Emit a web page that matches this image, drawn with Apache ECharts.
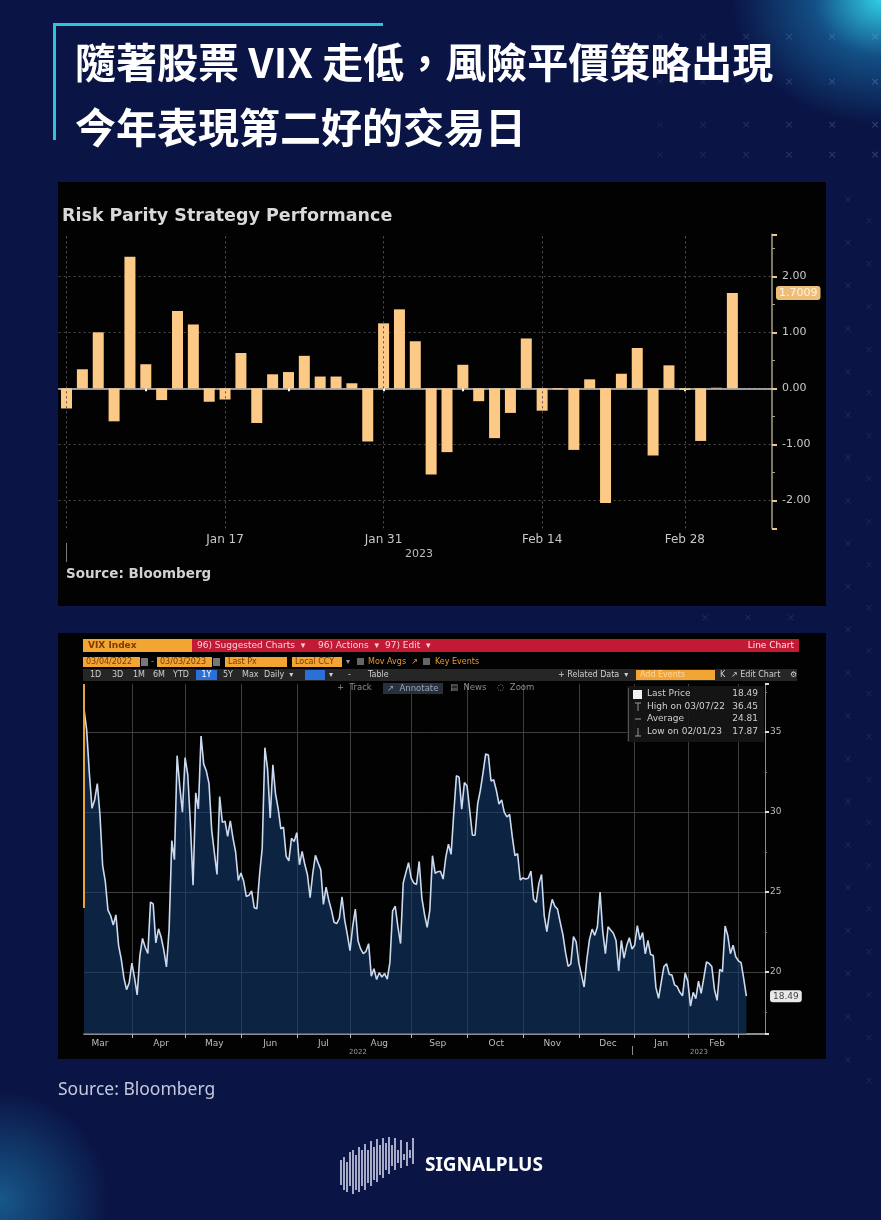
<!DOCTYPE html>
<html><head><meta charset="utf-8">
<script src="https://cdn.jsdelivr.net/npm/echarts@6/dist/echarts.min.js"></script>
<style>
html,body{margin:0;padding:0;}
body{width:881px;height:1220px;overflow:hidden;background:#0a1445;position:relative;}
#bg{position:absolute;left:0;top:0;width:881px;height:1220px;
background:
 radial-gradient(ellipse 150px 125px at 881px 0px, rgba(50,215,235,0.95) 0%, rgba(30,150,210,0.45) 45%, rgba(10,20,70,0) 100%),
 radial-gradient(ellipse 110px 110px at 0px 1200px, rgba(40,170,220,0.45) 0%, rgba(10,20,70,0) 100%),
 #0a1445;}
#chart{position:absolute;left:0;top:0;width:881px;height:1220px;}
</style></head>
<body><div id="bg"></div><div id="chart"></div>
<script>
// ---------- Risk parity daily performance ----------
const rpDates = ['2022-12-30','2023-01-03','2023-01-04','2023-01-05','2023-01-06','2023-01-09','2023-01-10','2023-01-11','2023-01-12','2023-01-13','2023-01-17','2023-01-18','2023-01-19','2023-01-20','2023-01-23','2023-01-24','2023-01-25','2023-01-26','2023-01-27','2023-01-30','2023-01-31','2023-02-01','2023-02-02','2023-02-03','2023-02-06','2023-02-07','2023-02-08','2023-02-09','2023-02-10','2023-02-13','2023-02-14','2023-02-15','2023-02-16','2023-02-17','2023-02-21','2023-02-22','2023-02-23','2023-02-24','2023-02-27','2023-02-28','2023-03-01','2023-03-02','2023-03-03'];
const rpReturns = [-0.36,0.34,1.00,-0.59,2.35,0.43,-0.21,1.38,1.14,-0.24,-0.20,0.63,-0.62,0.25,0.29,0.58,0.21,0.21,0.09,-0.95,1.16,1.41,0.84,-1.54,-1.14,0.42,-0.23,-0.89,-0.44,0.89,-0.40,-0.02,-1.10,0.16,-2.05,0.26,0.72,-1.20,0.41,-0.03,-0.94,0.01,1.7009];
const rpLabelDates = ['2023-01-17','2023-01-31','2023-02-14','2023-02-28'];
const rpLabelText = ['Jan 17','Jan 31','Feb 14','Feb 28'];
const rpGridDates = ['2022-12-30','2023-01-17','2023-01-31','2023-02-14','2023-02-28'];
const rpTickDates = ['2022-12-30','2023-01-09','2023-01-17','2023-01-23','2023-01-31','2023-02-07','2023-02-14','2023-02-21','2023-02-28'];
const rpLast = 1.7009;

// ---------- VIX Index daily close ----------
const vixMonthDays = [
 ['2022-03','7 8 9 10 11 14 15 16 17 18 21 22 23 24 25 28 29 30 31'],
 ['2022-04','1 4 5 6 7 8 11 12 13 14 18 19 20 21 22 25 26 27 28 29'],
 ['2022-05','2 3 4 5 6 9 10 11 12 13 16 17 18 19 20 23 24 25 26 27 31'],
 ['2022-06','1 2 3 6 7 8 9 10 13 14 15 16 17 21 22 23 24 27 28 29 30'],
 ['2022-07','1 5 6 7 8 11 12 13 14 15 18 19 20 21 22 25 26 27 28 29'],
 ['2022-08','1 2 3 4 5 8 9 10 11 12 15 16 17 18 19 22 23 24 25 26 29 30 31'],
 ['2022-09','1 2 6 7 8 9 12 13 14 15 16 19 20 21 22 23 26 27 28 29 30'],
 ['2022-10','3 4 5 6 7 10 11 12 13 14 17 18 19 20 21 24 25 26 27 28 31'],
 ['2022-11','1 2 3 4 7 8 9 10 11 14 15 16 17 18 21 22 23 25 28 29 30'],
 ['2022-12','1 2 5 6 7 8 9 12 13 14 15 16 19 20 21 22 23 27 28 29 30'],
 ['2023-01','3 4 5 6 9 10 11 12 13 17 18 19 20 23 24 25 26 27 30 31'],
 ['2023-02','1 2 3 6 7 8 9 10 13 14 15 16 17 21 22 23 24 27 28'],
 ['2023-03','1 2 3']
];
const vixClose = [
 36.45,35.13,32.45,30.23,30.75,31.77,29.83,26.67,25.67,23.87,23.53,22.94,23.57,21.67,20.81,19.63,18.90,19.33,20.56,
 19.63,18.57,21.03,22.10,21.55,21.16,24.37,24.26,21.82,22.70,22.17,21.37,20.32,22.68,28.21,27.02,33.52,31.60,29.99,33.40,
 32.34,29.25,25.42,31.20,30.19,34.75,32.99,32.56,31.77,28.87,27.47,26.10,30.96,29.35,29.43,28.48,29.45,28.37,27.50,25.72,26.19,
 25.69,24.72,24.79,25.07,24.02,23.96,26.09,27.75,34.02,32.69,29.62,32.95,31.13,30.19,28.95,29.05,27.23,26.95,28.36,28.16,28.71,
 26.70,27.54,26.73,26.08,24.64,26.17,27.29,26.82,26.40,24.23,25.30,24.50,23.88,23.11,23.03,23.36,24.69,23.24,22.33,21.33,
 22.84,23.93,21.95,21.44,21.15,21.29,21.77,19.74,20.20,19.53,19.95,19.69,19.90,19.56,20.60,23.80,24.11,22.82,21.78,25.56,26.21,26.83,25.87,
 25.56,25.47,26.91,24.64,23.61,22.79,23.87,27.27,26.16,26.27,26.30,25.81,27.16,27.99,27.35,29.92,32.26,32.18,30.18,31.84,31.62,
 30.10,28.55,28.55,30.52,31.36,32.45,33.63,33.57,31.94,32.02,31.37,30.50,30.76,29.98,29.69,29.85,28.46,27.28,27.39,25.75,25.88,
 25.81,25.86,26.30,24.55,24.35,25.54,26.09,23.53,22.52,23.73,24.54,24.11,23.93,23.12,22.36,21.24,20.35,20.50,22.21,21.89,20.58,
 19.84,19.06,20.75,22.01,22.68,22.29,22.83,25.00,22.55,21.14,22.83,22.62,22.42,21.97,20.07,21.97,20.87,21.65,22.14,21.44,21.67,
 22.90,22.01,22.46,21.13,21.97,21.09,21.03,19.02,18.35,19.36,20.34,20.52,19.85,19.81,19.20,19.08,18.73,18.51,19.94,19.40,
 17.87,18.73,18.33,19.43,18.66,19.63,20.63,20.53,20.34,18.91,18.23,20.17,20.02,22.87,22.29,21.14,21.67,20.95,20.70,
 20.58,19.59,18.49
];
const monthNames = ['Jan','Feb','Mar','Apr','May','Jun','Jul','Aug','Sep','Oct','Nov','Dec'];
const vixLegendNames = ['Last Price','High on 03/07/22','Average','Low on 02/01/23'];
const vixLegendValues = ['18.49','36.45','24.81','17.87'];
const vixLast = 18.49;

// ---------- derived helpers ----------
const vixDates = [];
vixMonthDays.forEach(([ym, days]) => days.split(' ').forEach(d => vixDates.push(ym + '-' + d.padStart(2,'0'))));
const vixMonthEnd = new Set();
const vixLabelIdx = new Set();
vixDates.forEach((d, i) => {
  const nx = vixDates[i+1];
  if (nx && nx.slice(0,7) !== d.slice(0,7)) vixMonthEnd.add(i);
  const prev = vixDates[i-1];
  const day = +d.slice(8);
  if (day >= 15 && (!prev || prev.slice(0,7) !== d.slice(0,7) || +prev.slice(8) < 15)) vixLabelIdx.add(i);
});
const rpLabelIdx = rpLabelDates.map(d => rpDates.indexOf(d));
const rpTickIdx = rpTickDates.map(d => rpDates.indexOf(d));

// ---------- decoration / panels ----------
const G = [];
const BB = 'DejaVu Sans';
function rect(x,y,w,h,fill,z,extra){G.push(Object.assign({type:'rect',z:z==null?50:z,shape:{x,y,width:w,height:h},style:{fill}},extra||{}));}
function txt(x,y,t,font,fill,align,z){G.push({type:'text',z:z==null?60:z,x,y,style:{text:t,font,fill,textAlign:align||'left',textVerticalAlign:'middle',align:align||'left',verticalAlign:'middle'}});}
function ln(x1,y1,x2,y2,stroke,w,z){G.push({type:'line',z:z==null?55:z,shape:{x1,y1,x2,y2},style:{stroke,lineWidth:w}});}

// background crosses
[37,82,125,155].forEach((y,r)=>{ for (let x=660; x<=875; x+=43) txt(x,y,'×','11px DejaVu Sans','rgba(150,170,225,'+(0.10+0.22*(x-660)/215).toFixed(2)+')','center',1); });
for (let y=200; y<=1060; y+=43) { txt(848,y,'×','10px DejaVu Sans','rgba(140,160,215,0.16)','center',1); txt(869,y+21,'×','10px DejaVu Sans','rgba(140,160,215,0.13)','center',1); }
for (let x=705; x<=830; x+=43) txt(x,618,'×','10px DejaVu Sans','rgba(140,160,215,0.16)','center',1);

// title frame
ln(53,24.5,383,24.5,'#2fc3d6',3,5);
ln(54.5,23,54.5,140,'#2fc3d6',3,5);
txt(75,62,'隨著股票 VIX 走低，風險平價策略出現','bold 41px "Noto Sans CJK TC"','#ffffff','left',60);
txt(75,127,'今年表現第二好的交易日','bold 41px "Noto Sans CJK TC"','#ffffff','left',60);

// panels
rect(58,182,768,424,'#020202',-10);
rect(58,633,768,426,'#020202',-10);

// top panel texts
txt(62,216,'Risk Parity Strategy Performance','bold 17.5px '+BB,'#d9d9d9','left');
txt(66,574,'Source: Bloomberg','bold 13.5px '+BB,'#d2d2d2','left');
txt(419,554,'2023','11px '+BB,'#bdbdbd','center');
ln(66.5,543,66.5,562,'#7a7a7a',1);

// VIX header rows
rect(83,639,109,13,'#f3a533');
txt(88,645.5,'VIX Index','bold 9px '+BB,'#7a3a00','left');
rect(192,639,607,13,'#c21a35');
txt(197,645.5,'96) Suggested Charts  ▾','9px '+BB,'#f3d3d8','left');
txt(318,645.5,'96) Actions  ▾','9px '+BB,'#f3d3d8','left');
txt(385,645.5,'97) Edit  ▾','9px '+BB,'#f3d3d8','left');
txt(794,645.5,'Line Chart','9px '+BB,'#fae4e8','right');
rect(83,657,57,10,'#f3a533'); txt(86,662,'03/04/2022','8px '+BB,'#7a3a00','left');
rect(141,658,7,8,'#777'); txt(151,662,'-','8px '+BB,'#aaa','left');
rect(157,657,55,10,'#f3a533'); txt(160,662,'03/03/2023','8px '+BB,'#7a3a00','left');
rect(213,658,7,8,'#777');
rect(225,657,62,10,'#f3a533'); txt(228,662,'Last Px','8px '+BB,'#7a3a00','left');
rect(292,657,50,10,'#f3a533'); txt(295,662,'Local CCY','8px '+BB,'#7a3a00','left');
txt(346,662,'▾','8px '+BB,'#999','left');
rect(357,658,7,7,'#666'); txt(368,662,'Mov Avgs  ↗','8px '+BB,'#e89a2c','left');
rect(423,658,7,7,'#666'); txt(435,662,'Key Events','8px '+BB,'#e89a2c','left');
rect(83,669,714,12,'#262626');
[['1D',90],['3D',112],['1M',133],['6M',153],['YTD',173],['5Y',223],['Max',242],['Daily  ▾',264],['▾',329],['-',348],['Table',368]].forEach(([t,x])=>txt(x,675,t,'8px '+BB,'#cfcfcf','left'));
rect(196,670,21,10,'#2b6fd8'); txt(206.5,675,'1Y','8px '+BB,'#ffffff','center');
rect(305,670,20,10,'#2b6fd8');
txt(558,675,'+ Related Data  ▾','8px '+BB,'#cfcfcf','left');
rect(636,670,79,10,'#f3a533'); txt(640,675,'Add Events','8px '+BB,'#f8d9a8','left');
txt(720,675,'K','8px '+BB,'#cfcfcf','left');
txt(731,675,'↗ Edit Chart','8px '+BB,'#cfcfcf','left');
txt(790,675,'⚙','8px '+BB,'#cfcfcf','left');
txt(337,688,'+  Track','8.5px '+BB,'#8d8d8d','left');
rect(383,683,60,11,'#27303c'); txt(387,688.5,'↗  Annotate','8.5px '+BB,'#9aa4b0','left');
txt(450,688,'▤  News','8.5px '+BB,'#8d8d8d','left');
txt(497,688,'◌  Zoom','8.5px '+BB,'#8d8d8d','left');

// VIX legend box
rect(627,686,137,56,'rgba(22,22,22,0.92)',70);
ln(628.5,688,628.5,741,'#555',1,71);
const legY = [694,707,719,732];
rect(633,690,9,9,'#f2f2f2',72);
ln(638,703,638,711,'#999',1,72); ln(635,703,641,703,'#999',1,72);
ln(635,719,641,719,'#999',1,72);
ln(638,728,638,736,'#999',1,72); ln(635,736,641,736,'#999',1,72);
vixLegendNames.forEach((n,i)=>{ txt(647,legY[i],n,'9px '+BB,'#d0d0d0','left',73); txt(758,legY[i],vixLegendValues[i],'9px '+BB,'#d0d0d0','right',73); });

// VIX year labels
txt(358,1052,'2022','7px '+BB,'#9a9a9a','center');
txt(699,1052,'2023','7px '+BB,'#9a9a9a','center');
ln(632.5,1046,632.5,1055,'#8a8a8a',1);

// page source + logo
txt(58,1090,'Source: Bloomberg','17.5px "Noto Sans"','#c5c9dc','left');
const logoBars = [[341,1160,1185],[344,1157,1190],[347,1162,1192],[350,1152,1186],[353,1150,1194],[356,1155,1190],[359,1147,1192],[362,1150,1186],[365,1144,1190],[368,1150,1183],[371,1141,1186],[374,1147,1180],[377,1139,1182],[380,1145,1175],[383,1138,1178],[386,1143,1170],[389,1137,1174],[392,1145,1166],[395,1138,1170],[398,1150,1163],[401,1140,1168],[404,1154,1160],[407,1142,1166],[410,1150,1158],[413,1138,1164]];
logoBars.forEach(([x,a,b])=>ln(x,a,x,b,'#e8ecff',1.4));
txt(425,1166,'SIGNALPLUS','bold 19px "Noto Sans"','#ffffff','left');

// ---------- chart ----------
const chart = echarts.init(document.getElementById('chart'), null, {width:881, height:1220});
chart.setOption({
  animation:false,
  backgroundColor:'transparent',
  grid:[
    {left:58.6, top:234.3, width:713.4, height:294},
    {left:84, top:684, width:681, height:350}
  ],
  xAxis:[
    {gridIndex:0, type:'category', data:rpDates, max:44, boundaryGap:true,
     axisLine:{lineStyle:{color:'#c9c9c9', width:1.5}},
     axisTick:{show:true, alignWithLabel:true, interval:(i)=>rpTickIdx.includes(i), length:3, lineStyle:{color:'#ffffff', width:2}},
     axisLabel:{interval:(i)=>rpLabelIdx.includes(i), formatter:(v)=>rpLabelText[rpLabelDates.indexOf(v)]||'', color:'#c8c8c8', fontSize:12, fontFamily:BB, margin:6},
     splitLine:{show:false}},
    {gridIndex:1, type:'category', data:vixDates, max:256, boundaryGap:false,
     axisLine:{lineStyle:{color:'#bdbdbd', width:1.5}},
     axisTick:{show:true, interval:(i)=>vixMonthEnd.has(i), length:4, lineStyle:{color:'#bdbdbd'}},
     axisLabel:{interval:(i)=>vixLabelIdx.has(i), formatter:(v)=>monthNames[+v.slice(5,7)-1], color:'#bdbdbd', fontSize:9, fontFamily:BB, margin:5},
     splitLine:{show:true, interval:(i)=>vixMonthEnd.has(i), lineStyle:{color:'#3e3e3e', width:1}}}
  ],
  yAxis:[
    {gridIndex:0, type:'value', position:'right', min:-2.5, max:2.75, minInterval:1, maxInterval:1,
     axisLine:{show:true, lineStyle:{color:'#aaa08c', width:1.5}},
     axisTick:{show:true, length:5, lineStyle:{color:'#e6c796', width:2}},
     minorTick:{show:true, splitNumber:2, length:3, lineStyle:{color:'#aaa08c'}},
     axisLabel:{formatter:(v)=>Number.isInteger(v)?v.toFixed(2):'', color:'#c8c8c8', fontSize:11, fontFamily:BB, margin:10},
     splitLine:{show:true, showMinLine:false, showMaxLine:false, lineStyle:{color:'#4e4e4e', type:[2,3], width:1}}},
    {gridIndex:1, type:'value', position:'right', min:16.125, max:38, minInterval:5, maxInterval:5,
     axisLine:{show:true, lineStyle:{color:'#8c8c8c', width:1}},
     axisTick:{show:true, length:4, lineStyle:{color:'#dddddd', width:2}},
     minorTick:{show:true, splitNumber:2, length:2, lineStyle:{color:'#888'}},
     axisLabel:{formatter:(v)=>(v%5===0?String(v):''), color:'#bdbdbd', fontSize:9, fontFamily:BB, margin:5},
     splitLine:{show:true, showMinLine:false, showMaxLine:false, lineStyle:{color:'#3e3e3e', width:1}}}
  ],
  series:[
    {type:'bar', xAxisIndex:0, yAxisIndex:0, data:rpReturns, barWidth:11,
     itemStyle:{color:'#fcc986'},
     markLine:{silent:true, symbol:'none', animation:false,
       data:[
         ...rpGridDates.map(d=>({xAxis:rpDates.indexOf(d), lineStyle:{color:'#555', type:[2,3], width:1}, label:{show:false}})),
         {yAxis:rpLast, lineStyle:{color:'rgba(0,0,0,0)', width:0.01, type:'solid'}, label:{show:true, position:'end', distance:4, formatter:rpLast.toFixed(4), color:'#fff3dc', backgroundColor:'#eebd78', padding:[2,3,1,3], borderRadius:3, fontSize:11, fontFamily:BB}}
       ]}},
    {type:'line', xAxisIndex:1, yAxisIndex:1, data:vixClose, symbol:'none', showSymbol:false,
     lineStyle:{color:'#cbdaef', width:1.6},
     areaStyle:{color:'rgba(20,60,112,0.84)'},
     markLine:{silent:true, symbol:'none', animation:false,
       data:[
         [{coord:[0,24], lineStyle:{color:'#e8a33c', width:2, type:'solid'}, label:{show:false}},{coord:[0,38]}],
         {yAxis:vixLast, lineStyle:{color:'rgba(0,0,0,0)', width:0.01, type:'solid'}, label:{show:true, position:'end', distance:5, formatter:vixLast.toFixed(2), color:'#444', backgroundColor:'#e8e8e8', padding:[2,3,1,3], borderRadius:3, fontSize:9, fontFamily:BB}}
       ]}}
  ],
  graphic:{elements:G}
});
</script></body></html>
